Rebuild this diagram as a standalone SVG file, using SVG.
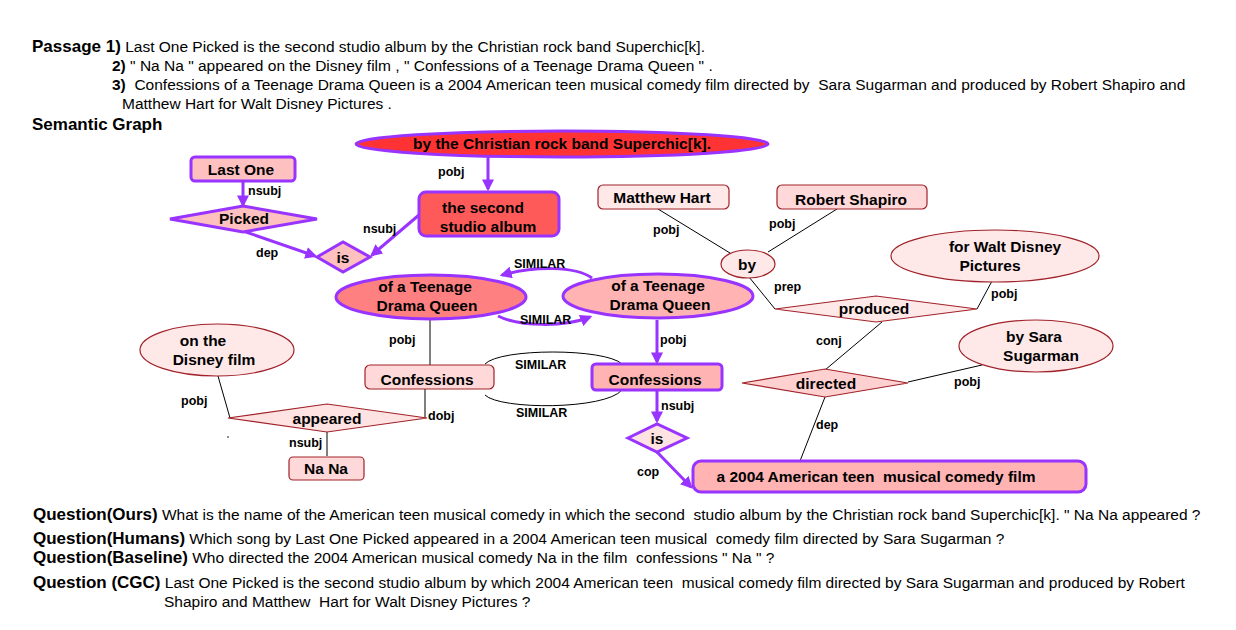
<svg xmlns="http://www.w3.org/2000/svg" width="1236" height="630" viewBox="0 0 1236 630">
<style>
text{font-family:"Liberation Sans",Arial,sans-serif;fill:#000;white-space:pre}
.p{font-size:15.5px}
.b{font-weight:bold;font-size:17px}
.bs{font-weight:bold}
.n{font-size:15.5px;font-weight:bold;text-anchor:middle}
.e{font-size:12.5px;font-weight:bold}
.pu{stroke:#9933ff;stroke-width:3}
.dr{stroke:#a0222a;stroke-width:1.2}
.pl{stroke:#9933ff;stroke-width:3;fill:none}
.bl{stroke:#000;stroke-width:1;fill:none}
</style>
<defs>
<marker id="ah" viewBox="0 0 10 10" refX="8" refY="5" markerWidth="4" markerHeight="4" orient="auto">
<path d="M0,0 L10,5 L0,10 z" fill="#9933ff"/>
</marker>
</defs>
<rect width="1236" height="630" fill="#fff"/>

<g id="passage">
<text class="p" x="32" y="52" xml:space="preserve"><tspan class="b">Passage 1)</tspan> Last One Picked is the second studio album by the Christian rock band Superchic[k].</text>
<text class="p" x="112" y="71" xml:space="preserve"><tspan class="bs">2)</tspan> " Na Na " appeared on the Disney film , " Confessions of a Teenage Drama Queen " .</text>
<text class="p" x="112" y="90" xml:space="preserve"><tspan class="bs">3)</tspan>  Confessions of a Teenage Drama Queen is a 2004 American teen musical comedy film directed by  Sara Sugarman and produced by Robert Shapiro and</text>
<text class="p" x="122" y="109">Matthew Hart for Walt Disney Pictures .</text>
<text class="b" x="32" y="130">Semantic Graph</text>
</g>

<g id="connectors">
<line class="pl" x1="488" y1="157" x2="488" y2="189" marker-end="url(#ah)"/>
<line class="pl" x1="243" y1="181" x2="243" y2="205" marker-end="url(#ah)"/>
<line class="pl" x1="243" y1="231" x2="315" y2="256" marker-end="url(#ah)"/>
<line class="pl" x1="419" y1="215" x2="372" y2="255" marker-end="url(#ah)"/>
<path class="pl" d="M592,278 C575,266 535,266 502,275" marker-end="url(#ah)"/>
<path class="pl" d="M498,316 C520,327 565,327 590,317" marker-end="url(#ah)"/>
<line class="pl" x1="657" y1="320" x2="657" y2="362" marker-end="url(#ah)"/>
<line class="pl" x1="657" y1="390" x2="657" y2="421" marker-end="url(#ah)"/>
<line class="pl" x1="657" y1="452" x2="691" y2="487" marker-end="url(#ah)"/>
<line class="bl" x1="430" y1="320" x2="430" y2="365"/>
<path class="bl" d="M485,364 C500,348 605,348 622,364"/>
<path class="bl" d="M485,395 C500,410 605,410 622,390"/>
<line class="bl" x1="218" y1="376" x2="230" y2="418"/>
<line class="bl" x1="425" y1="389" x2="425" y2="418"/>
<line class="bl" x1="327" y1="431" x2="327" y2="456"/>
<line class="bl" x1="658" y1="209" x2="730" y2="253"/>
<line class="bl" x1="837" y1="209" x2="768" y2="252"/>
<line class="bl" x1="749" y1="277" x2="775" y2="309"/>
<line class="bl" x1="992" y1="281" x2="977" y2="309"/>
<line class="bl" x1="882" y1="322" x2="825" y2="370"/>
<line class="bl" x1="908" y1="382" x2="982" y2="365"/>
<line class="bl" x1="825" y1="397" x2="800" y2="461"/>
<circle cx="228" cy="437" r="0.8" fill="#000"/>
<text class="e" x="438" y="176">pobj</text>
<text class="e" x="248" y="195">nsubj</text>
<text class="e" x="256" y="257">dep</text>
<text class="e" x="363" y="233">nsubj</text>
<text class="e" x="514" y="268">SIMILAR</text>
<text class="e" x="520" y="324">SIMILAR</text>
<text class="e" x="389" y="344">pobj</text>
<text class="e" x="660" y="344">pobj</text>
<text class="e" x="515" y="369">SIMILAR</text>
<text class="e" x="516" y="417">SIMILAR</text>
<text class="e" x="181" y="405">pobj</text>
<text class="e" x="428" y="420">dobj</text>
<text class="e" x="289" y="447">nsubj</text>
<text class="e" x="661" y="410">nsubj</text>
<text class="e" x="637" y="476">cop</text>
<text class="e" x="653" y="234">pobj</text>
<text class="e" x="769" y="228">pobj</text>
<text class="e" x="774" y="291">prep</text>
<text class="e" x="991" y="298">pobj</text>
<text class="e" x="816" y="345">conj</text>
<text class="e" x="954" y="386">pobj</text>
<text class="e" x="816" y="429">dep</text>
</g>

<g id="n-superchic">
<ellipse class="pu" cx="562" cy="144" rx="206" ry="13" fill="#ff3333"/>
<text class="n" x="562" y="149">by the Christian rock band Superchic[k].</text>
</g>
<g id="n-second-album">
<rect class="pu" x="419" y="192" width="140" height="44" rx="7" fill="#ff5a5a"/>
<text class="n" x="483" y="213">the second</text>
<text class="n" x="488" y="232">studio album</text>
</g>
<g id="n-last-one">
<rect class="pu" x="191" y="157" width="104" height="24" rx="4" fill="#ffc0c0"/>
<text class="n" x="241" y="175">Last One</text>
</g>
<g id="n-picked">
<polygon class="pu" points="170,219 243,206 317,219 243,232" fill="#ffc0c0"/>
<text class="n" x="244" y="224">Picked</text>
</g>
<g id="n-is1">
<polygon class="pu" points="317,257 343,242 370,257 343,272" fill="#ffc0c0"/>
<text class="n" x="343" y="263">is</text>
</g>
<g id="n-teen-left">
<ellipse class="pu" cx="431" cy="297" rx="95" ry="22" fill="#ff8080"/>
<text class="n" x="425" y="292">of a Teenage</text>
<text class="n" x="427" y="311">Drama Queen</text>
</g>
<g id="n-teen-right">
<ellipse class="pu" cx="658" cy="296" rx="95" ry="22" fill="#ffb3b3"/>
<text class="n" x="658" y="291">of a Teenage</text>
<text class="n" x="660" y="310">Drama Queen</text>
</g>
<g id="n-confessions-left">
<rect class="dr" x="365" y="365" width="129" height="24" rx="5" fill="#ffd9d9"/>
<text class="n" x="427" y="385">Confessions</text>
</g>
<g id="n-confessions-right">
<rect class="pu" x="592" y="364" width="130" height="26" rx="4" fill="#ffb3b3"/>
<text class="n" x="655" y="385">Confessions</text>
</g>
<g id="n-disney-film">
<ellipse class="dr" cx="217" cy="350" rx="77" ry="26" fill="#ffe8e8"/>
<text class="n" x="203" y="346">on the</text>
<text class="n" x="214" y="365">Disney film</text>
</g>
<g id="n-appeared">
<polygon class="dr" points="228,418 327,404 427,418 327,432" fill="#ffe2e2"/>
<text class="n" x="327" y="424">appeared</text>
</g>
<g id="n-nana">
<rect class="dr" x="289" y="457" width="75" height="23" rx="4" fill="#ffd9d9"/>
<text class="n" x="326" y="474">Na Na</text>
</g>
<g id="n-is2">
<polygon class="pu" points="628,438 657,424 687,438 657,452" fill="#ffe2e2"/>
<text class="n" x="657" y="444">is</text>
</g>
<g id="n-film">
<rect class="pu" x="693" y="461" width="393" height="31" rx="8" fill="#ffb3b3"/>
<text class="n" x="876" y="482" xml:space="preserve">a 2004 American teen  musical comedy film</text>
</g>
<g id="n-matthew">
<rect class="dr" x="598" y="185" width="131" height="24" rx="5" fill="#ffe8e8"/>
<text class="n" x="662" y="203">Matthew Hart</text>
</g>
<g id="n-robert">
<rect class="dr" x="777" y="185" width="150" height="24" rx="5" fill="#ffd9d9"/>
<text class="n" x="851" y="205">Robert Shapiro</text>
</g>
<g id="n-by">
<ellipse class="dr" cx="748" cy="264" rx="27" ry="14" fill="#ffe8e8"/>
<text class="n" x="747" y="270">by</text>
</g>
<g id="n-produced">
<polygon class="dr" points="775,309 876,296 977,309 876,322" fill="#ffe8e8"/>
<text class="n" x="874" y="314">produced</text>
</g>
<g id="n-walt">
<ellipse class="dr" cx="995" cy="256" rx="104" ry="26" fill="#ffe8e8"/>
<text class="n" x="1005" y="252">for Walt Disney</text>
<text class="n" x="990" y="271">Pictures</text>
</g>
<g id="n-directed">
<polygon class="dr" points="742,383 825,369 908,383 825,397" fill="#ffd0d0"/>
<text class="n" x="826" y="389">directed</text>
</g>
<g id="n-sara">
<ellipse class="dr" cx="1036" cy="346" rx="77" ry="26" fill="#ffe8e8"/>
<text class="n" x="1034" y="342" xml:space="preserve">by Sara</text>
<text class="n" x="1041" y="361">Sugarman</text>
</g>

<g id="questions">
<text class="p" x="33" y="520" xml:space="preserve"><tspan class="b">Question(Ours)</tspan> What is the name of the American teen musical comedy in which the second  studio album by the Christian rock band Superchic[k]. " Na Na appeared ?</text>
<text class="p" x="33" y="544" xml:space="preserve"><tspan class="b">Question(Humans)</tspan> Which song by Last One Picked appeared in a 2004 American teen musical  comedy film directed by Sara Sugarman ?</text>
<text class="p" x="33" y="563" xml:space="preserve"><tspan class="b">Question(Baseline)</tspan> Who directed the 2004 American musical comedy Na in the film  confessions " Na " ?</text>
<text class="p" x="33" y="588" xml:space="preserve"><tspan class="b">Question (CGC)</tspan> Last One Picked is the second studio album by which 2004 American teen  musical comedy film directed by Sara Sugarman and produced by Robert</text>
<text class="p" x="164" y="607" xml:space="preserve">Shapiro and Matthew  Hart for Walt Disney Pictures ?</text>
</g>
</svg>
